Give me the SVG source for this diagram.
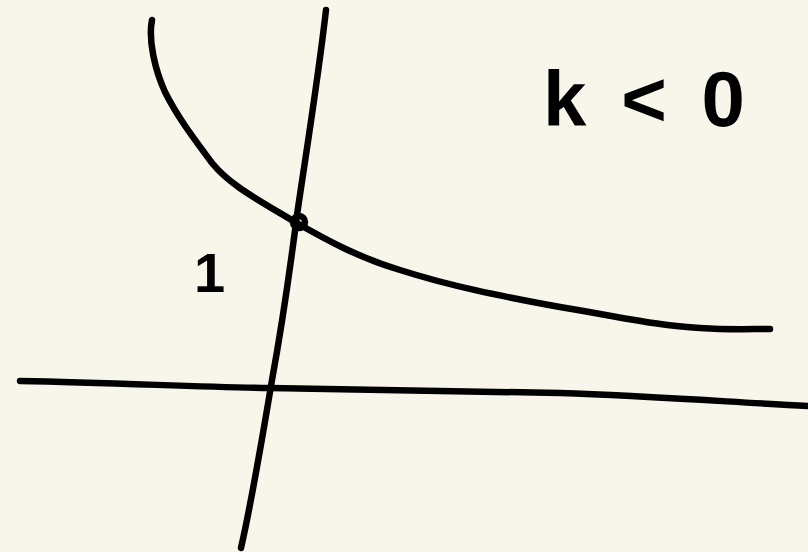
<svg xmlns="http://www.w3.org/2000/svg" width="808" height="552" viewBox="0 0 808 552">
<style>
.ink{fill:none;stroke:#000;stroke-width:6.5;stroke-linecap:round;stroke-linejoin:round}
.lbl{font-family:"Liberation Sans",Arial,sans-serif;fill:#000;font-weight:bold}
</style>
<rect width="808" height="552" fill="#f8f6ea"/>
<g id="axes">
<path class="ink" d="M326,10 C318,80 305,160 297,215 C290,270 283,320 272,380 C262,440 252,500 241,548"/>
<path class="ink" d="M20,381 C120,383 200,387 270,388 C380,390 480,391 560,393 C650,396 730,402 808,406"/>
</g>
<g id="curve">
<path class="ink" d="M152,20 C148,40 155,70 165,92 C178,118 195,140 212,163 C230,185 255,198 295,222 C330,242 360,258 400,270 C450,286 500,296 560,307 C620,317 660,326 700,328 C730,330 750,329 770,329"/>
<circle class="ink" cx="299" cy="222" r="6"/>
</g>
<g id="labels">
<text class="lbl" x="543" y="126" font-size="78" textLength="202" lengthAdjust="spacing">k&lt;0</text>
<text class="lbl" x="194" y="292" font-size="56">1</text>
</g>
</svg>
